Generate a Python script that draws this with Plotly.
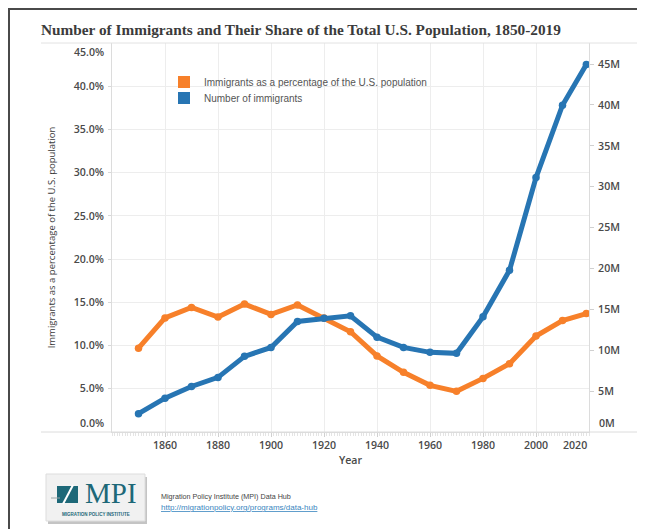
import plotly.graph_objects as go

# ---------------- data ----------------
years = [1850, 1860, 1870, 1880, 1890, 1900, 1910, 1920, 1930, 1940,
         1950, 1960, 1970, 1980, 1990, 2000, 2010, 2019]
share_pct = [9.7, 13.2, 14.4, 13.3, 14.8, 13.6, 14.7, 13.2, 11.6, 8.8,
             6.9, 5.4, 4.7, 6.2, 7.9, 11.1, 12.9, 13.7]
immigrants = [2244602, 4138697, 5567229, 6679943, 9249547, 10341276, 13515886,
              13920692, 14204149, 11594896, 10347395, 9738091, 9619302,
              14079906, 19767316, 31107889, 39955854, 44932799]

year_ticks = [1860, 1880, 1900, 1920, 1940, 1960, 1980, 2000, 2020]
year_labels = ["1860", "1880", "1900", "1920", "1940", "1960", "1980", "2000", "2020"]
pct_ticks = [0, 5, 10, 15, 20, 25, 30, 35, 40, 45]
pct_labels = ["0.0%", "5.0%", "10.0%", "15.0%", "20.0%", "25.0%", "30.0%",
              "35.0%", "40.0%", "45.0%"]
count_ticks = [0, 5e6, 10e6, 15e6, 20e6, 25e6, 30e6, 35e6, 40e6, 45e6]
count_labels = ["0M", "5M", "10M", "15M", "20M", "25M", "30M", "35M", "40M", "45M"]

series_names = ["Immigrants as a percentage of the U.S. population",
                "Number of immigrants"]
title_text = "Number of Immigrants and Their Share of the Total U.S. Population, 1850-2019"
source_line = "Migration Policy Institute (MPI) Data Hub"
source_url = "http://migrationpolicy.org/programs/data-hub"

# ---------------- style ----------------
ORANGE = "#F7802A"
BLUE = "#2775B3"
TEAL = "#1d6878"
W, H = 645, 529
OFF = 8                      # page offset of the plot div (body margin)
PL, PT, PW, PH = 112, 43, 477, 389   # plot area in page pixels
BASE = PT + PH
L, T = PL - OFF, PT - OFF
R, B = W - L - PW, H - T - PH
TICK_FONT = dict(family="Open Sans, Liberation Sans, sans-serif", size=10.6, color="#4a4a4a",
                 weight=600)


def px(x):
    return (x - PL) / PW


def py(y):
    return (BASE - y) / PH


fig = go.Figure()

fig.add_trace(go.Scatter(
    x=years, y=share_pct, mode="lines+markers", name=series_names[0],
    line=dict(color=ORANGE, width=5), marker=dict(color=ORANGE, size=7.5),
    showlegend=False, yaxis="y"))
fig.add_trace(go.Scatter(
    x=years, y=immigrants, mode="lines+markers", name=series_names[1],
    line=dict(color=BLUE, width=5), marker=dict(color=BLUE, size=7.5),
    showlegend=False, yaxis="y2"))

# legend entries (square swatches), one legend box per row
for name, col, lg in zip(series_names, [ORANGE, BLUE], ["legend", "legend2"]):
    fig.add_trace(go.Scatter(
        x=[None], y=[None], mode="markers", name=name, legend=lg,
        marker=dict(symbol="square", size=11, color=col), showlegend=True))

annotations = []
# edge tick labels, nudged inside like the original
annotations.append(dict(text=pct_labels[-1], x=px(106), xref="paper", y=pct_ticks[-1], yref="y",
                        xanchor="right", yanchor="top", showarrow=False, font=TICK_FONT))
annotations.append(dict(text=pct_labels[0], x=px(106), xref="paper", y=pct_ticks[0], yref="y",
                        xanchor="right", yanchor="bottom", showarrow=False, font=TICK_FONT))
annotations.append(dict(text=count_labels[0], x=px(597), xref="paper", y=count_ticks[0], yref="y2",
                        xanchor="left", yanchor="bottom", showarrow=False, font=TICK_FONT))
annotations.append(dict(text=year_labels[-1], x=year_ticks[-1], xref="x", y=py(445), yref="paper",
                        xanchor="right", yanchor="middle", showarrow=False, font=TICK_FONT))
# footer
annotations.append(dict(text=source_line, x=px(159), xref="paper", y=py(496), yref="paper",
                        xanchor="left", yanchor="middle", showarrow=False,
                        font=dict(family="Liberation Sans, Arial", size=7.2, color="#444")))
annotations.append(dict(text="<u>" + source_url + "</u>", x=px(159), xref="paper", y=py(507),
                        yref="paper", xanchor="left", yanchor="middle", showarrow=False,
                        font=dict(family="Liberation Sans, Arial", size=8, color="#3a86c0")))
annotations.append(dict(text="MPI", x=px(111), xref="paper", y=py(493), yref="paper",
                        xanchor="center", yanchor="middle", showarrow=False,
                        font=dict(family="Liberation Serif, Times New Roman, serif", size=29,
                                  color=TEAL)))
annotations.append(dict(text="<b>MIGRATION POLICY INSTITUTE</b>", x=px(96), xref="paper",
                        y=py(514), yref="paper", xanchor="center", yanchor="middle",
                        showarrow=False,
                        font=dict(family="Liberation Sans, Arial", size=4.5, color=TEAL)))

shapes = [
    # outer frame (top and left)
    dict(type="path", xref="paper", yref="paper",
         path=f"M {px(9)} {py(540)} L {px(9)} {py(9)} L {px(660)} {py(9)}",
         line=dict(color="#4a4a4a", width=2)),
    # header / footer rules
    dict(type="line", xref="paper", yref="paper", x0=px(41), x1=px(660), y0=1, y1=1,
         line=dict(color="#e2e2e2", width=1)),
    dict(type="line", xref="paper", yref="paper", x0=px(41), x1=px(660), y0=0, y1=0,
         line=dict(color="#dcdcdc", width=1)),
    # legend background hiding the grid
    dict(type="rect", xref="paper", yref="paper", x0=px(172), x1=px(525), y0=py(114), y1=py(70),
         fillcolor="white", line=dict(width=0), layer="between"),
    # logo
    dict(type="rect", xref="paper", yref="paper", x0=px(48), x1=px(147), y0=py(524), y1=py(477),
         fillcolor="#c4c4c4", line=dict(width=0)),
    dict(type="rect", xref="paper", yref="paper", x0=px(46), x1=px(145), y0=py(521), y1=py(474),
         fillcolor="#f1f1f1", line=dict(color="#dddddd", width=1)),
    dict(type="rect", xref="paper", yref="paper", x0=px(57), x1=px(78), y0=py(503), y1=py(486),
         fillcolor=TEAL, line=dict(width=0)),
    dict(type="line", xref="paper", yref="paper", x0=px(63), x1=px(73), y0=py(504), y1=py(485),
         line=dict(color="white", width=2)),
    dict(type="line", xref="paper", yref="paper", x0=px(51), x1=px(60), y0=py(498), y1=py(498),
         line=dict(color="#9aa5a8", width=1)),
]

legend_font = dict(family="Liberation Sans, Arial", size=10, color="#555")

fig.update_layout(
    width=W, height=H,
    margin=dict(l=L, r=R, t=T, b=B, autoexpand=False),
    paper_bgcolor="white", plot_bgcolor="white",
    title=dict(text=title_text, xref="container", yref="container",
               x=(41 - OFF) / W, xanchor="left", y=1 - (30 - OFF) / H, yanchor="middle",
               font=dict(family="Liberation Serif, Times New Roman, serif", size=15.3,
                         color="#3b3b3b", weight="bold")),
    xaxis=dict(range=[1840, 2020], tickvals=year_ticks[:-1], ticktext=year_labels[:-1],
               showgrid=True, gridcolor="#ededed", gridwidth=1,
               showline=True, linecolor="#dcdcdc", zeroline=False,
               ticks="outside", ticklen=4, tickcolor="#d0d0d0",
               minor=dict(dtick=1, ticks="outside", ticklen=3, tickcolor="#e4e4e4", showgrid=False),
               tickfont=TICK_FONT, ticklabelstandoff=-1,
               title=dict(text="Year", standoff=5, font=TICK_FONT)),
    yaxis=dict(range=[0, 45], tickvals=pct_ticks[1:-1], ticktext=pct_labels[1:-1],
               showgrid=True, gridcolor="#ededed", gridwidth=1,
               showline=True, linecolor="#dcdcdc", zeroline=False,
               ticks="outside", ticklen=3, tickcolor="#d8d8d8",
               tickfont=TICK_FONT, ticklabelstandoff=2,
               title=dict(text=series_names[0], standoff=16,
                          font=dict(family="Open Sans, Liberation Sans, sans-serif", size=9.5,
                                    color="#3a3a3a"))),
    yaxis2=dict(range=[0, 47.57e6], overlaying="y", side="right",
                tickvals=count_ticks[1:], ticktext=count_labels[1:],
                showgrid=False, showline=True, linecolor="#dcdcdc", zeroline=False,
                ticks="outside", ticklen=4, tickcolor="#d0d0d0",
                tickfont=TICK_FONT, ticklabelstandoff=2),
    legend=dict(x=px(164), y=py(67.5), xanchor="left", yanchor="top",
                bgcolor="rgba(0,0,0,0)", font=legend_font, itemsizing="constant"),
    legend2=dict(x=px(164), y=py(83.5), xanchor="left", yanchor="top",
                 bgcolor="rgba(0,0,0,0)", font=legend_font, itemsizing="constant"),
    annotations=annotations,
    shapes=shapes,
)

fig.write_html("out.html", config={"displayModeBar": False})
